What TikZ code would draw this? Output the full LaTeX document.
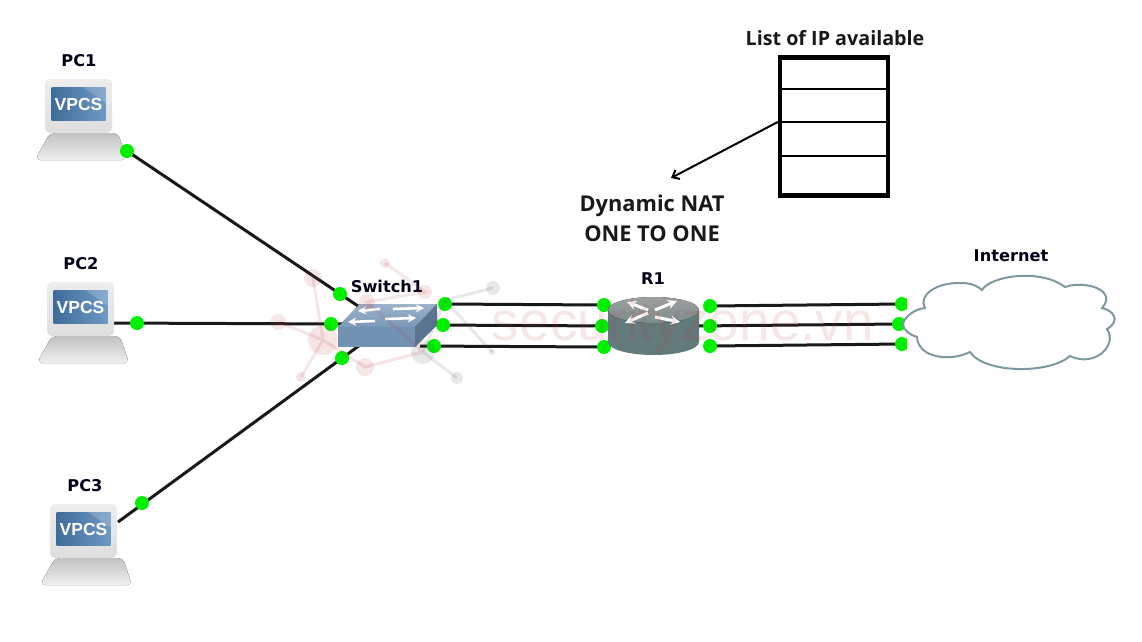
\documentclass[tikz,border=0pt]{standalone}
\usepackage{fontspec}
\setmainfont{DejaVu Sans}
\newfontfamily\canvafont{Open Sans}
\newfontfamily\vpcsfont{Liberation Sans}
\usepackage{xcolor}
\usetikzlibrary{backgrounds,arrows.meta}
\definecolor{portGreen}{HTML}{00F000}
\definecolor{cloudLine}{HTML}{7C9A9E}
\definecolor{screenBlue}{HTML}{4A7FB5}
\definecolor{markPink}{HTML}{B83A3A}
\definecolor{switchBlue}{HTML}{7292B4}
\definecolor{routerGray}{HTML}{627A7A}

\begin{document}
\begin{tikzpicture}[
    x=1pt, y=-1pt,
    link/.style={line width=3pt, draw=black!90},
    port/.style={circle, minimum size=14pt, inner sep=0, fill=portGreen},
    devlabel/.style={font=\fontsize{16.2}{18}\selectfont\bfseries, text=black!90!blue},
    note/.style={font=\canvafont\fontsize{19.7}{30}\selectfont\bfseries, align=center, text=black!90},
    bignote/.style={note, font=\canvafont\fontsize{21.8}{30}\selectfont\bfseries},
    monitor/.style={rectangle, rounded corners=5pt, minimum width=67pt, minimum height=54pt,
        top color=black!7, bottom color=black!13},
    screen/.style={rectangle, minimum width=54pt, minimum height=33pt, inner sep=0, text=white,
        left color=screenBlue!85!black, right color=screenBlue!80!white,
        font=\vpcsfont\fontsize{17.5}{20}\selectfont\bfseries},
    fwd/.style={draw=white, line width=2.6pt, -stealth},
    pcbox/.pic={
      \fill[top color=black!24, bottom color=black!6, rounded corners=5pt] (5,54) -- (73,54) -- (82,81) -- (-10,81) -- cycle;
      \node[monitor] (-mon) at (33.5,27) {};
      \node[screen] (-scr) at (33.5,24.5) {\raisebox{-6.5pt}[0pt][0pt]{VPCS}};
      \fill[white, opacity=.18] (38,8) -- (61,8) -- (61,24) -- cycle;
    },
  ]
  \useasboundingbox (0,0) rectangle (1142,641);

  \pic (pc1) at (45,79) {pcbox};
  \pic (pc2) at (47,282) {pcbox};
  \pic (pc3) at (50,504) {pcbox};
  \node[devlabel] (pc1lab) at (79,61) {PC1};
  \node[devlabel] (pc2lab) at (81,264) {PC2};
  \node[devlabel] (pc3lab) at (85,486) {PC3};

  \coordinate (pc2out) at (113,323);
  \coordinate (pc3out) at (118,522);
  \coordinate (swin1) at (358,306);
  \coordinate (swin2) at (345,324);
  \coordinate (swin3) at (360,345);
  \coordinate (swout2) at (432,325);
  \coordinate (swout3) at (420,346);
  \coordinate (rin2) at (615,326);
  \coordinate (rout2) at (695,326);

  \node[port] (p1) at (127,151) {};
  \node[port] (p2) at (137,323) {};
  \node[port] (p3) at (142,503) {};
  \node[port] (s1) at (340,294) {};
  \node[port] (s2) at (331,324) {};
  \node[port] (s3) at (342,358) {};
  \node[port] (s4) at (445,304) {};
  \node[port] (s5) at (443,325) {};
  \node[port] (s6) at (434,346) {};
  \node[port] (r1) at (604,305) {};
  \node[port] (r2) at (602,326) {};
  \node[port] (r3) at (604,347) {};
  \node[port] (r4) at (710,306) {};
  \node[port] (r5) at (710,326) {};
  \node[port] (r6) at (710,346) {};
  \begin{scope}
    \clip (880,290) rectangle (907,360);
    \node[port] (c1) at (902,304) {};
    \node[port] (c2) at (899,324) {};
    \node[port] (c3) at (902,344) {};
  \end{scope}

  \begin{scope}[on background layer]
    \draw[link] (p1.center) -- (swin1);
    \draw[link] (pc2out) -- (swin2);
    \draw[link] (pc3out) -- (swin3);
    \draw[link] (s4.center) -- (r1.center);
    \draw[link] (swout2) -- (rin2);
    \draw[link] (swout3) -- (r3.center);
    \draw[link] (r4.center) -- (c1.center);
    \draw[link] (rout2) -- (c2.center);
    \draw[link] (r6.center) -- (c3.center);
  \end{scope}

  % switch
  \fill[top color=switchBlue!70!white, bottom color=switchBlue!95!white] (338,327) -- (415,327) -- (437,304) -- (360,304) -- cycle;
  \fill[switchBlue] (338,327) -- (415,327) -- (415,347) -- (338,347) -- cycle;
  \fill[switchBlue!80!black] (415,327) -- (437,304) -- (437,325) -- (415,347) -- cycle;
  \draw[fwd] (380,309) -- (358,311);
  \draw[fwd] (393,309) -- (424,308);
  \draw[fwd] (375,321) -- (348,322);
  \draw[fwd] (385,319) -- (416,318);
  \node[devlabel] (swlab) at (387,286) {Switch1};

  % router
  \fill[routerGray] (608,310) -- (608,342) arc[start angle=180, end angle=0, x radius=45.5, y radius=13]
    -- (699,310) -- cycle;
  \fill[top color=black!38, bottom color=routerGray!85!white] (653.5,310) ellipse[x radius=45.5, y radius=13];
  \draw[fwd, line width=3pt] (648,310) -- (627,302);
  \draw[fwd, line width=3pt] (655,310) -- (677,301);
  \draw[fwd, line width=3pt] (648,313) -- (625,323);
  \draw[fwd, line width=3pt] (655,317) -- (680,322);
  \node[devlabel] (rlab) at (653,279) {R1};

  % cloud
  \draw[line width=2pt, draw=cloudLine, fill=white]
    (903,324) .. controls (905,316) and (915,309) .. (925,308)
    .. controls (918,296) and (935,282) .. (962,283) .. controls (970,283) and (978,286) .. (982,290)
    .. controls (990,276) and (1040,268) .. (1065,287)
    .. controls (1085,280) and (1118,290) .. (1102,308)
    .. controls (1112,310) and (1122,320) .. (1107,329)
    .. controls (1118,345) and (1095,368) .. (1070,356)
    .. controls (1050,374) and (985,374) .. (970,352)
    .. controls (950,362) and (918,358) .. (917,337)
    .. controls (910,335) and (903,330) .. (903,324) -- cycle;
  \node[devlabel] (netlab) at (1011,256) {Internet};

  % address list
  \node[note] (listlab) at (835,38) {List of IP available};
  \node[rectangle, draw=black, line width=4.5pt, minimum width=108pt, minimum height=138pt, inner sep=0] (pool) at (834,126.5) {};
  \coordinate (row1l) at (pool.west |- 0,89);
  \coordinate (row1r) at (pool.east |- 0,89);
  \coordinate (row2l) at (pool.west |- 0,122);
  \coordinate (row2r) at (pool.east |- 0,122);
  \coordinate (row3l) at (pool.west |- 0,156);
  \coordinate (row3r) at (pool.east |- 0,156);
  \draw[line width=2pt] (row1l) -- (row1r);
  \draw[line width=2pt] (row2l) -- (row2r);
  \draw[line width=2pt] (row3l) -- (row3r);
  \coordinate (natend) at (671,178);
  \draw[line width=2pt, -{Straight Barb[length=6pt,width=10pt]}] (row2l) -- (natend);
  \node[bignote] (nat) at (652,218) {Dynamic NAT\\ONE TO ONE};

  % watermark
  \begin{scope}[opacity=.13]
    \draw[markPink, line width=3pt]
      (278,322) -- (323,340) -- (313,278) (301,377) -- (323,340) -- (365,367) -- (423,352)
      (385,263) -- (425,292) -- (367,302) -- (423,352);
    \draw[black!70, line width=3pt]
      (423,352) -- (457,378) (423,352) -- (445,300) -- (493,288) (445,300) -- (492,352);
    \foreach \mx/\my/\mr in {313/278/9, 278/322/8, 323/340/15, 301/377/5, 365/367/9, 385/263/5, 425/292/7, 367/302/8}
      \fill[markPink] (\mx,\my) circle (\mr);
    \foreach \mx/\my/\mr in {423/352/12, 457/378/6, 493/288/7, 492/352/3}
      \fill[black!70] (\mx,\my) circle (\mr);
    \node[font=\vpcsfont\fontsize{55}{58}\selectfont, text=markPink, anchor=base] (wm) at (683,340) {securityzone.vn};
  \end{scope}
\end{tikzpicture}
\end{document}
